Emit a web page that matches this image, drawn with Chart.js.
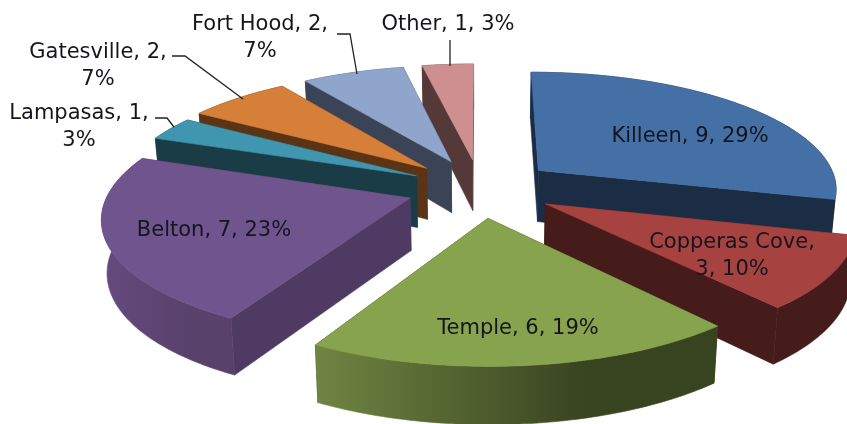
<!DOCTYPE html>
<html><head><meta charset="utf-8">
<style>html,body{margin:0;padding:0;background:#fff}#w{width:847px;height:424px;overflow:hidden}canvas{filter:blur(0.5px)}</style>
<script src="https://cdn.jsdelivr.net/npm/chart.js@4"></script>
</head><body><div id="w"><canvas id="c"></canvas></div>
<script>
const categories = ['Killeen','Copperas Cove','Temple','Belton','Lampasas','Gatesville','Fort Hood','Other'];
const values = [9,3,6,7,1,2,2,1];
const percents = [29,10,19,23,3,7,7,3];
const explode = [42,42,42,41,40,42,42,42];
const topColors = ['#4470a6','#a64340','#87a34d','#70548d','#3f96ae','#d67f39','#8fa5cb','#cd8f8f'];
const radialWallColors = ['#1b2d44','#451c1a','#3a4520','#4e3a63','#1a3c47','#5b3416','#3b4457','#553938'];
const outerWallLeft = ['#1b2d44','#451c1a','#6f8542','#654a80','#1a3c47','#5b3416','#3b4457','#553938'];
const outerWallRight = ['#1b2d44','#451c1a','#38431f','#58416a','#1a3c47','#5b3416','#3b4457','#553938'];
const labelLines = [
  [`Killeen, ${values[0]}, ${percents[0]}%`],
  ['Copperas Cove,',`${values[1]}, ${percents[1]}%`],
  [`Temple, ${values[2]}, ${percents[2]}%`],
  [`Belton, ${values[3]}, ${percents[3]}%`],
  ['Lampasas, 1,','3%'],['Gatesville, 2,','7%'],['Fort Hood, 2,','7%'],['Other, 1, 3%']];
const labelAnchors = [[690,137],[732,243],[518,329],[214,231],[79,114],[98,53],[260,25],[448,25]];
const leaders = [null,null,null,null,[[155,118],[167,118],[174,127]],[[172,56],[185,56],[243,99]],[[337,34],[350,34],[357,74]],[[450,40],[450,66]]];

// view projection of the pie plane (perspective tilt of the 3-D pie)
const K=.144, SX=300, SY=117, H=52, HV=5, BX=.985;
function proj(cx,cy,u,v,bottom){
  const w=1/(1-K*v);
  let x=cx+SX*u*w, y=cy+SY*v*w;
  if(bottom){ x=cx+(x-cx)*BX; y+=H+HV*v; }
  return [x,y];
}

const pie3d={id:'pie3d',beforeDatasetsDraw(chart){
  const ctx=chart.ctx, meta=chart.getDatasetMeta(0);
  const order=meta.data.map((el,i)=>({el,i,m:Math.sin((el.startAngle+el.endAngle)/2)})).sort((a,b)=>a.m-b.m);
  ctx.save();
  for(const {el,i} of order){
    const mid=(el.startAngle+el.endAngle)/2, d=el.options.offset/el.outerRadius;
    const ou=Math.cos(mid)*d, ov=Math.sin(mid)*d, cx=el.x, cy=el.y;
    const n=Math.max(6,Math.ceil((el.endAngle-el.startAngle)*60));
    const T=[],B=[];
    for(let k=0;k<=n;k++){const a=el.startAngle+(el.endAngle-el.startAngle)*k/n;
      T.push(proj(cx,cy,ou+Math.cos(a),ov+Math.sin(a),false));
      B.push(proj(cx,cy,ou+Math.cos(a),ov+Math.sin(a),true));}
    const A0=proj(cx,cy,ou,ov,false), A1=proj(cx,cy,ou,ov,true);
    const poly=(pts,fill)=>{ctx.beginPath();pts.forEach((p,j)=>j?ctx.lineTo(p[0],p[1]):ctx.moveTo(p[0],p[1]));ctx.closePath();ctx.fillStyle=fill;ctx.strokeStyle=fill;ctx.lineWidth=.6;ctx.fill();ctx.stroke();};
    poly([A0,T[0],B[0],A1],radialWallColors[i]);
    poly([A0,T[n],B[n],A1],radialWallColors[i]);
    const xs=T.map(p=>p[0]), g=ctx.createLinearGradient(Math.min(...xs),0,Math.max(...xs),0);
    g.addColorStop(0,outerWallLeft[i]);g.addColorStop(.68,outerWallRight[i]);g.addColorStop(1,outerWallRight[i]);
    poly([...T,...B.slice().reverse()],g);
    poly([A0,...T],topColors[i]);
  }
  ctx.restore();
  return false;
}};
const labels3d={id:'labels3d',afterDraw(chart){
  const ctx=chart.ctx; ctx.save();
  ctx.strokeStyle='#222'; ctx.lineWidth=1.3;
  leaders.forEach(l=>{if(!l)return;ctx.beginPath();l.forEach((p,j)=>j?ctx.lineTo(p[0],p[1]):ctx.moveTo(p[0],p[1]));ctx.stroke();});
  ctx.font='21px "DejaVu Sans"';ctx.fillStyle='#15151f';ctx.textAlign='center';ctx.textBaseline='middle';
  labelLines.forEach((ls,i)=>ls.forEach((t,j)=>ctx.fillText(t,labelAnchors[i][0],labelAnchors[i][1]+j*27)));
  ctx.restore();
}};
new Chart(document.getElementById('c'),{type:'pie',
  data:{labels:categories,datasets:[{data:values,backgroundColor:topColors,offset:explode,borderWidth:0}]},
  options:{responsive:true,maintainAspectRatio:false,animation:false,events:[],
    layout:{padding:{left:113,bottom:48}},
    plugins:{legend:{display:false},tooltip:{enabled:false}}},
  plugins:[pie3d,labels3d]});
</script></body></html>
